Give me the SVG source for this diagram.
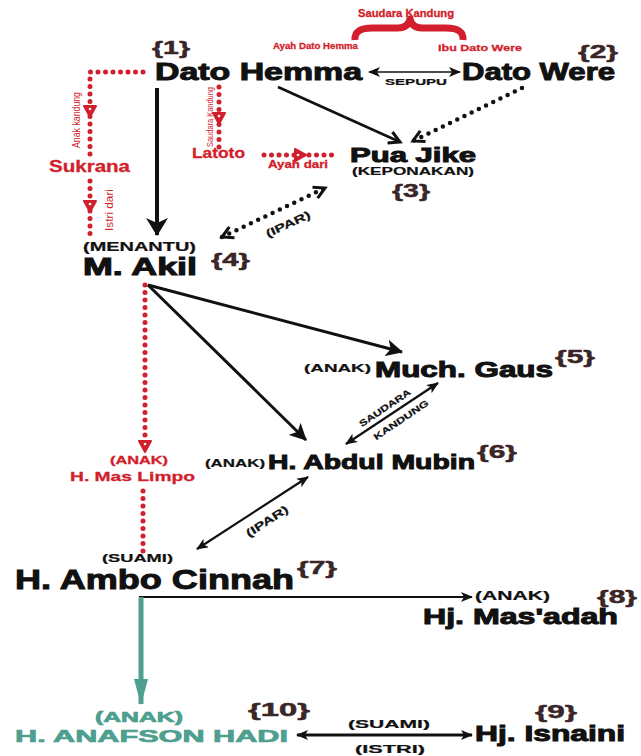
<svg xmlns="http://www.w3.org/2000/svg" width="641" height="756" viewBox="0 0 641 756">
<style>
text{font-family:"Liberation Sans",Arial,sans-serif;font-weight:bold}
.nm{fill:#111;stroke:#111;stroke-width:1}
.num{fill:#3a2527;stroke:#3a2527;stroke-width:0.5}
.tag{fill:#111;stroke:#111;stroke-width:0.2}
.red{fill:#d11f2d;stroke:#d11f2d;stroke-width:0.3}
.redn{fill:#d11f2d;font-weight:normal}
.teal{fill:#4e9f8f;stroke:#4e9f8f;stroke-width:0.7}
.ln{stroke:#111;fill:none}
.rdot{stroke:#d11f2d;stroke-width:5;stroke-linecap:round;stroke-dasharray:0 7.5;fill:none}
.bdot{stroke:#111;stroke-width:4.5;stroke-linecap:round;stroke-dasharray:0 8;fill:none}
</style>
<defs>
<marker id="big" viewBox="0 0 18 22" refX="17" refY="11" markerWidth="18" markerHeight="22" markerUnits="userSpaceOnUse" orient="auto"><path d="M0,0 L18,11 L0,22 L5,11 z" fill="#111"/></marker>
<marker id="mid" viewBox="0 0 16 16" refX="15" refY="8" markerWidth="17" markerHeight="17" markerUnits="userSpaceOnUse" orient="auto-start-reverse"><path d="M0,0 L16,8 L0,16 L4,8 z" fill="#111"/></marker>
<marker id="chev" viewBox="-2 -2 16 16" refX="11" refY="6" markerWidth="16" markerHeight="16" markerUnits="userSpaceOnUse" orient="auto-start-reverse"><path d="M0,0 L11,6 L0,12" fill="none" stroke="#111" stroke-width="3"/></marker>
<marker id="sm" viewBox="0 0 12 10" refX="11" refY="5" markerWidth="12" markerHeight="10" markerUnits="userSpaceOnUse" orient="auto-start-reverse"><path d="M0,0 L12,5 L0,10 L3,5 z" fill="#111"/></marker>
<marker id="tl" viewBox="0 0 26 14" refX="25" refY="7" markerWidth="26" markerHeight="14" markerUnits="userSpaceOnUse" orient="auto"><path d="M0,0 L26,7 L0,14 z" fill="#4e9f8f"/></marker>
<g id="rt"><path d="M-6,-5 L6,-5 L0,6 z" fill="#d11f2d" stroke="#d11f2d" stroke-width="2" stroke-linejoin="round"/><circle cx="0" cy="-2" r="1.3" fill="#fff"/></g>
</defs>

<g id="connectors">
<path class="rdot" d="M143,72 L90,72 L90,155"/>
<use href="#rt" x="90" y="111"/>
<path class="rdot" d="M90,181 L90,234"/>
<use href="#rt" x="90" y="206"/>
<path class="rdot" d="M219,87 L219,148"/>
<use href="#rt" x="219" y="118"/>
<path class="rdot" d="M264,155 L336,155"/>
<use href="#rt" transform="translate(300,155) rotate(-90)"/>
<path class="rdot" d="M145,285 L145,436"/>
<use href="#rt" x="145" y="446"/>
<path class="rdot" d="M143,491 L143,553"/>
<path d="M355,40 Q354,28 372,28 L398,28 Q408,28 410,19 Q412,28 422,28 L446,28 Q464,28 463,40" fill="none" stroke="#d11f2d" stroke-width="7" stroke-linejoin="round"/>
<line class="ln" x1="157" y1="88" x2="157" y2="235" stroke-width="4" marker-end="url(#big)"/>
<line class="ln" x1="369" y1="72" x2="460" y2="72" stroke-width="1.6" marker-start="url(#sm)" marker-end="url(#sm)"/>
<line class="ln" x1="278" y1="87" x2="400" y2="142" stroke-width="2.6" marker-end="url(#chev)"/>
<line class="bdot" x1="522" y1="88" x2="413" y2="141" marker-end="url(#chev)"/>
<line class="bdot" x1="222" y1="237" x2="325" y2="188" marker-start="url(#chev)" marker-end="url(#chev)"/>
<line class="ln" x1="148" y1="285" x2="402" y2="352" stroke-width="3" marker-end="url(#mid)"/>
<line class="ln" x1="148" y1="285" x2="306" y2="440" stroke-width="3" marker-end="url(#mid)"/>
<line class="ln" x1="346" y1="444" x2="438" y2="383" stroke-width="2.2" marker-start="url(#sm)" marker-end="url(#sm)"/>
<line class="ln" x1="197" y1="549" x2="308" y2="477" stroke-width="2.2" marker-start="url(#sm)" marker-end="url(#sm)"/>
<line class="ln" x1="139" y1="597" x2="472" y2="597" stroke-width="2" marker-end="url(#sm)"/>
<line x1="141" y1="597" x2="141" y2="704" stroke="#4e9f8f" stroke-width="5" marker-end="url(#tl)"/>
<line class="ln" x1="297" y1="735" x2="472" y2="735" stroke-width="3" marker-start="url(#sm)" marker-end="url(#sm)"/>
<text class="tag" x="385" y="85" font-size="9" textLength="62" lengthAdjust="spacingAndGlyphs">SEPUPU</text>
<text class="red" x="358" y="17" font-size="10" textLength="96" lengthAdjust="spacingAndGlyphs">Saudara Kandung</text>
<text class="red" x="273" y="49" font-size="9.5" textLength="85" lengthAdjust="spacingAndGlyphs">Ayah Dato Hemma</text>
<text class="red" x="438" y="51" font-size="9.5" textLength="84" lengthAdjust="spacingAndGlyphs">Ibu Dato Were</text>
<text class="redn" transform="translate(80,120) rotate(-90)" text-anchor="middle" font-size="10" textLength="56" lengthAdjust="spacingAndGlyphs">Anak kandung</text>
<text class="redn" transform="translate(213,117) rotate(-90)" text-anchor="middle" font-size="9" textLength="60" lengthAdjust="spacingAndGlyphs">Saudara Kandung</text>
<text class="redn" transform="translate(113,210) rotate(-90)" text-anchor="middle" font-size="11" textLength="42" lengthAdjust="spacingAndGlyphs">Istri dari</text>
<text class="red" x="268" y="168" font-size="10" textLength="60" lengthAdjust="spacingAndGlyphs">Ayah dari</text>
<text class="tag" transform="translate(288,224) rotate(-25)" text-anchor="middle" y="4" font-size="11" textLength="48" lengthAdjust="spacingAndGlyphs">(IPAR)</text>
<text class="tag" transform="translate(385,408) rotate(-34)" text-anchor="middle" y="3" font-size="9" textLength="60" lengthAdjust="spacingAndGlyphs">SAUDARA</text>
<text class="tag" transform="translate(401,420) rotate(-34)" text-anchor="middle" y="3" font-size="9" textLength="64" lengthAdjust="spacingAndGlyphs">KANDUNG</text>
<text class="tag" transform="translate(267,521) rotate(-33)" text-anchor="middle" y="4" font-size="11" textLength="48" lengthAdjust="spacingAndGlyphs">(IPAR)</text>
<text class="tag" x="348" y="728" font-size="11" textLength="82" lengthAdjust="spacingAndGlyphs">(SUAMI)</text>
<text class="tag" x="355" y="753" font-size="11" textLength="70" lengthAdjust="spacingAndGlyphs">(ISTRI)</text>
</g>

<g id="n1">
<text class="num" x="152" y="54" font-size="19" textLength="38" lengthAdjust="spacingAndGlyphs">{1}</text>
<text class="nm" x="155" y="80" font-size="24" textLength="207" lengthAdjust="spacingAndGlyphs">Dato Hemma</text>
</g>
<g id="n2">
<text class="num" x="578" y="58" font-size="19" textLength="40" lengthAdjust="spacingAndGlyphs">{2}</text>
<text class="nm" x="462" y="80" font-size="24" textLength="153" lengthAdjust="spacingAndGlyphs">Dato Were</text>
</g>
<g id="n3">
<text class="nm" x="350" y="162" font-size="21" textLength="126" lengthAdjust="spacingAndGlyphs">Pua Jike</text>
<text class="tag" x="352" y="175" font-size="11" textLength="122" lengthAdjust="spacingAndGlyphs">(KEPONAKAN)</text>
<text class="num" x="392" y="197" font-size="19" textLength="38" lengthAdjust="spacingAndGlyphs">{3}</text>
</g>
<g id="sukrana">
<text class="red" x="49" y="172" font-size="16" textLength="81" lengthAdjust="spacingAndGlyphs">Sukrana</text>
</g>
<g id="latoto">
<text class="red" x="192" y="158" font-size="14" textLength="53" lengthAdjust="spacingAndGlyphs">Latoto</text>
</g>
<g id="n4">
<text class="tag" x="83" y="251" font-size="12" textLength="113" lengthAdjust="spacingAndGlyphs">(MENANTU)</text>
<text class="nm" x="83" y="275" font-size="23" textLength="114" lengthAdjust="spacingAndGlyphs">M. Akil</text>
<text class="num" x="211" y="266" font-size="19" textLength="39" lengthAdjust="spacingAndGlyphs">{4}</text>
</g>
<g id="n5">
<text class="tag" x="304" y="372" font-size="10" textLength="67" lengthAdjust="spacingAndGlyphs">(ANAK)</text>
<text class="nm" x="375" y="377" font-size="22" textLength="178" lengthAdjust="spacingAndGlyphs">Much. Gaus</text>
<text class="num" x="555" y="363" font-size="19" textLength="40" lengthAdjust="spacingAndGlyphs">{5}</text>
</g>
<g id="maslimpo">
<text class="red" x="110" y="464" font-size="11" textLength="58" lengthAdjust="spacingAndGlyphs">(ANAK)</text>
<text class="red" x="70" y="481" font-size="13" textLength="125" lengthAdjust="spacingAndGlyphs">H. Mas Limpo</text>
</g>
<g id="n6">
<text class="tag" x="205" y="467" font-size="10" textLength="60" lengthAdjust="spacingAndGlyphs">(ANAK)</text>
<text class="nm" x="268" y="469" font-size="21" textLength="207" lengthAdjust="spacingAndGlyphs">H. Abdul Mubin</text>
<text class="num" x="477" y="458" font-size="19" textLength="40" lengthAdjust="spacingAndGlyphs">{6}</text>
</g>
<g id="n7">
<text class="tag" x="102" y="562" font-size="11" textLength="71" lengthAdjust="spacingAndGlyphs">(SUAMI)</text>
<text class="nm" x="15" y="589" font-size="28" textLength="279" lengthAdjust="spacingAndGlyphs">H. Ambo Cinnah</text>
<text class="num" x="297" y="574" font-size="19" textLength="40" lengthAdjust="spacingAndGlyphs">{7}</text>
</g>
<g id="n8">
<text class="tag" x="475" y="600" font-size="12" textLength="75" lengthAdjust="spacingAndGlyphs">(ANAK)</text>
<text class="num" x="597" y="603" font-size="19" textLength="40" lengthAdjust="spacingAndGlyphs">{8}</text>
<text class="nm" x="423" y="624" font-size="22" textLength="195" lengthAdjust="spacingAndGlyphs">Hj. Mas'adah</text>
</g>
<g id="n10">
<text class="teal" x="95" y="722" font-size="15" textLength="88" lengthAdjust="spacingAndGlyphs">(ANAK)</text>
<text class="teal" x="15" y="742" font-size="17" textLength="273" lengthAdjust="spacingAndGlyphs">H. ANAFSON HADI</text>
<text class="num" x="248" y="716" font-size="19" textLength="62" lengthAdjust="spacingAndGlyphs">{10}</text>
</g>
<g id="n9">
<text class="num" x="535" y="718" font-size="19" textLength="42" lengthAdjust="spacingAndGlyphs">{9}</text>
<text class="nm" x="475" y="741" font-size="22" textLength="150" lengthAdjust="spacingAndGlyphs">Hj. Isnaini</text>
</g>
</svg>
